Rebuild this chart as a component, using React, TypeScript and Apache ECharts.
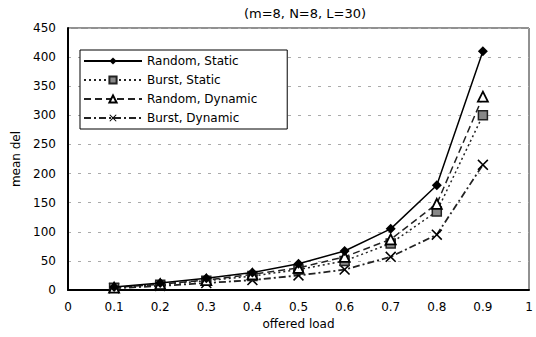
import React, { useEffect, useRef } from "react";
import * as echarts from "echarts";

const loads = [0.1, 0.2, 0.3, 0.4, 0.5, 0.6, 0.7, 0.8, 0.9];
const randomStatic = [5, 12, 20, 30, 45, 67, 105, 180, 410];
const burstStatic = [4, 9, 16, 24, 35, 50, 80, 135, 300];
const randomDynamic = [4, 10, 17, 27, 38, 57, 87, 148, 332];
const burstDynamic = [3, 7, 12, 17, 25, 35, 57, 95, 215];
const seriesNames = ["Random, Static", "Burst, Static", "Random, Dynamic", "Burst, Dynamic"];

const xShape = "path://M0,1 L1,0 L5,4 L9,0 L10,1 L6,5 L10,9 L9,10 L5,6 L1,10 L0,9 L4,5Z";

export default function App() {
  const ref = useRef<HTMLDivElement>(null);
  useEffect(() => {
    const chart = echarts.init(ref.current!, undefined, { renderer: "svg" });
    const pair = (arr: number[]) => loads.map((x, i) => [x, arr[i]]);
    const font = "'DejaVu Sans', Arial, sans-serif";
    chart.setOption({
      animation: false,
      backgroundColor: "#fff",
      textStyle: { fontFamily: font, color: "#000" },
      title: {
        text: "(m=8, N=8, L=30)",
        left: 300,
        top: 2,
        textAlign: "center",
        textStyle: { fontSize: 13, fontWeight: "normal", color: "#000", fontFamily: font },
      },
      grid: {
        left: 68,
        right: 7,
        top: 28,
        bottom: 47,
        show: true,
        borderColor: "#222",
        borderWidth: 1,
      },
      legend: {
        data: seriesNames,
        orient: "vertical",
        left: 80,
        top: 50,
        itemWidth: 58,
        itemHeight: 9,
        itemGap: 7,
        padding: [5, 30, 5, 3],
        backgroundColor: "#fff",
        borderColor: "#000",
        borderWidth: 1,
        borderRadius: 0,
        textStyle: { fontSize: 12, color: "#000", fontFamily: font },
      },
      xAxis: {
        type: "value",
        min: 0,
        max: 1,
        interval: 0.1,
        name: "offered load",
        nameLocation: "middle",
        nameGap: 26,
        nameTextStyle: { fontSize: 12, color: "#000" },
        axisLine: { lineStyle: { color: "#000", width: 2 } },
        axisTick: { show: false },
        axisLabel: { fontSize: 12, color: "#000", margin: 11 },
        splitLine: { show: false },
      },
      yAxis: {
        type: "value",
        min: 0,
        max: 450,
        interval: 50,
        name: "mean del",
        nameLocation: "middle",
        nameGap: 46,
        nameTextStyle: { fontSize: 12, color: "#000" },
        axisLine: { show: true, lineStyle: { color: "#000", width: 2 } },
        axisTick: { show: false },
        axisLabel: { fontSize: 12, color: "#000", margin: 12 },
        splitLine: { show: true, lineStyle: { color: "#aaa", type: [3, 7], width: 1 } },
      },
      series: [
        {
          name: seriesNames[0],
          type: "line",
          data: pair(randomStatic),
          symbol: "diamond",
          symbolSize: 10,
          itemStyle: { color: "#000" },
          lineStyle: { color: "#000", width: 1.5, type: "solid" },
          z: 5,
        },
        {
          name: seriesNames[1],
          type: "line",
          data: pair(burstStatic),
          symbol: "rect",
          symbolSize: 9,
          itemStyle: { color: "#888", borderColor: "#222", borderWidth: 1.5 },
          lineStyle: { color: "#222", width: 1.5, type: [2, 3] },
          z: 3,
        },
        {
          name: seriesNames[2],
          type: "line",
          data: pair(randomDynamic),
          symbol: "triangle",
          symbolSize: 10,
          itemStyle: { color: "#fff", borderColor: "#000", borderWidth: 1.8 },
          lineStyle: { color: "#222", width: 1.5, type: [7, 4] },
          z: 4,
        },
        {
          name: seriesNames[3],
          type: "line",
          data: pair(burstDynamic),
          symbol: xShape,
          symbolSize: 11,
          itemStyle: { color: "#000" },
          lineStyle: { color: "#222", width: 1.8, type: [7, 3, 2, 3] },
          z: 2,
        },
      ],
    });
    return () => chart.dispose();
  }, []);
  return <div ref={ref} style={{ width: 536, height: 337, position: "absolute", left: 0, top: 0 }} />;
}
